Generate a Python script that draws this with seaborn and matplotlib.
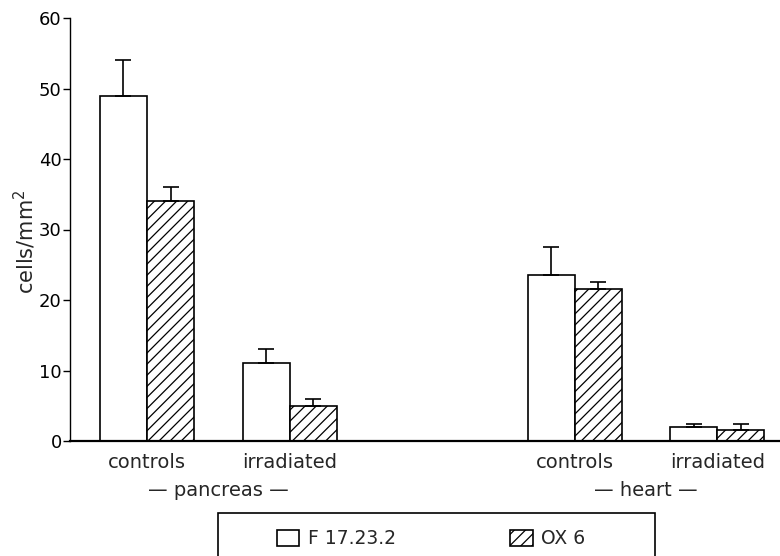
import numpy as np
import pandas as pd
import matplotlib
matplotlib.use("Agg")
import matplotlib.pyplot as plt
import matplotlib.transforms as mtransforms
from matplotlib.patches import Patch, Rectangle
import seaborn as sns

# ---- data ----
organs = ["pancreas", "pancreas", "heart", "heart"]
conditions = ["controls", "irradiated", "controls", "irradiated"]
antibodies = ["F 17.23.2", "OX 6"]
f17_values = [49, 11, 23.5, 2]
f17_errors = [5, 2, 4, 0.4]
ox6_values = [34, 5, 21.5, 1.5]
ox6_errors = [2, 1, 1, 0.9]
y_ticks = [0, 10, 20, 30, 40, 50, 60]

sns.set_style("ticks")
plt.rcParams["font.family"] = ["DejaVu Sans"]
plt.rcParams["hatch.linewidth"] = 0.9
plt.rcParams["hatch.color"] = "black"

# layout positions: organs separated by an empty slot
organ_order = list(dict.fromkeys(organs))
cond_order = list(dict.fromkeys(conditions))
positions = [organ_order.index(o) * (len(cond_order) + 1) + cond_order.index(c)
             for o, c in zip(organs, conditions)]

df = pd.DataFrame({
    "pos": positions * 2,
    "value": f17_values + ox6_values,
    "err": f17_errors + ox6_errors,
    "antibody": [antibodies[0]] * 4 + [antibodies[1]] * 4,
})

fig = plt.figure(figsize=(7.8, 5.56), dpi=100)
ax = fig.add_axes([70 / 780, 1 - 441 / 556, 710 / 780, (441 - 18) / 556])

sns.barplot(data=df, x="pos", y="value", hue="antibody", native_scale=True,
            width=0.66, palette=["white", "white"], edgecolor="black",
            linewidth=1.2, errorbar=None, legend=False, ax=ax,
            hue_order=antibodies)

for bar in ax.containers[1]:
    bar.set_hatch("///")

# upward-only error bars
for cont, ab in zip(ax.containers, antibodies):
    sub = df[df["antibody"] == ab]
    xs = [b.get_x() + b.get_width() / 2 for b in cont]
    ys = [b.get_height() for b in cont]
    errs = sub["err"].tolist()
    ax.errorbar(xs, ys, yerr=[np.zeros(len(errs)), errs], fmt="none",
                ecolor="black", elinewidth=1.2, capsize=6, capthick=1.2, zorder=3)

ax.set_ylim(0, 60)
ax.set_xlim(-0.54, 4.44)
ax.set_yticks(y_ticks)
ax.set_yticklabels([str(t) for t in y_ticks], fontsize=13)
ax.set_xticks(positions)
ax.set_xticklabels(conditions, fontsize=14)
ax.tick_params(axis="x", length=0, pad=9)
ax.tick_params(axis="y", length=5, width=1, pad=1, direction="out", colors="black")
ax.set_xlabel("")
ax.set_ylabel("cells/mm$^2$", fontsize=15)
ax.yaxis.set_label_coords(-0.045, 0.47)

sns.despine(ax=ax)
ax.spines["left"].set_linewidth(1.0)
ax.spines["bottom"].set_linewidth(1.6)
ax.spines["left"].set_color("black")
ax.spines["bottom"].set_color("black")

# organ group labels
trans = mtransforms.blended_transform_factory(ax.transData, fig.transFigure)
for org in organ_order:
    p = [pp for pp, o in zip(positions, organs) if o == org]
    ax.text(np.mean(p), 1 - 490 / 556, "\u2014 " + org + " \u2014", transform=trans,
            ha="center", va="center", fontsize=14, clip_on=False)

# legend
handles = [Patch(facecolor="white", edgecolor="black", linewidth=1.2),
           Patch(facecolor="white", edgecolor="black", linewidth=1.2, hatch="///")]
fig.legend(handles, antibodies, ncol=2, loc="center",
           bbox_to_anchor=(431 / 780, 1 - 539 / 556), frameon=False,
           fontsize=13.5, handlelength=1.2, handleheight=0.9,
           handletextpad=0.45, columnspacing=6.1)
fig.add_artist(Rectangle((218 / 780, -0.02), (655 - 218) / 780, 0.02 + (556 - 513) / 556,
                         transform=fig.transFigure, fill=False, edgecolor="black",
                         linewidth=1.2))

fig.savefig("out.png", dpi=100)
